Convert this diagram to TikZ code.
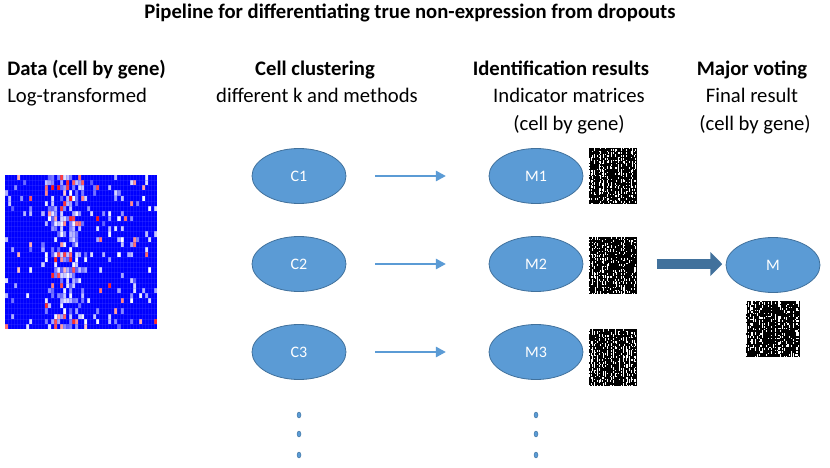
\documentclass[tikz,border=0pt]{standalone}
\usepackage{fontspec}
\setmainfont{Carlito}
\usetikzlibrary{arrows.meta,shapes.geometric}
\definecolor{obl}{HTML}{5B9BD5}
\definecolor{obd}{HTML}{41719C}
\definecolor{hblue}{RGB}{0,0,255}
\newcommand\binmatrix[4]{% x y w h
  \fill[black] (#1,#2) rectangle ++(#3,#4);
  \pgfmathsetmacro\bcw{#3/30}
  \pgfmathsetmacro\bch{#4/38}
  \foreach \bi in {0,...,29}{
    \pgfmathsetmacro\bpc{0.08+0.5*rnd}
    \foreach \bj in {0,...,37}{
      \pgfmathsetmacro\br{rnd}
      \ifdim\br pt<\bpc pt
        \fill[white] (#1+\bi*\bcw,#2+\bj*\bch) rectangle ++(\bcw*0.65,\bch);
      \fi
    }
  }
}
\begin{document}
\begin{tikzpicture}[x=0.75pt,y=-0.75pt,
  ell/.style={ellipse, fill=obl, draw=obd, line width=0.6pt, minimum width=70.5pt, minimum height=41.25pt, inner sep=0pt, text=white, font=\fontsize{12}{14}\selectfont},
  head/.style={font=\fontsize{15.5}{18}\selectfont\bfseries, inner sep=0pt, anchor=base},
  sub/.style={font=\fontsize{15.5}{18}\selectfont, inner sep=0pt, anchor=base},
  thinarr/.style={draw=obl, line width=2.2pt, -{Triangle[length=7.5pt,width=7.5pt]}, shorten <=21.5pt, shorten >=32pt},
  bigarr/.style={draw=obd, line width=7.5pt, -{Triangle[length=9pt,width=17.5pt]}, shorten <=55pt, shorten >=2.5pt},
  dotn/.style={ellipse, fill=obl, draw=obd, line width=0.3pt, minimum width=3pt, minimum height=4.5pt, inner sep=0pt}]
\useasboundingbox (0,0) rectangle (830,467);

% title and headings
\node[head] (title) at (410,19) {Pipeline for differentiating true non-expression from dropouts};
\node[head, anchor=base west] (h1) at (7,75) {Data (cell by gene)};
\node[sub, anchor=base west] (s1) at (7,102) {Log-transformed};
\node[head] (h2) at (315,75) {Cell clustering};
\node[sub] (s2) at (317,102) {different k and methods};
\node[head] (h3) at (561,75) {Identification results};
\node[sub] (s3) at (569,102) {Indicator matrices};
\node[sub] (s3b) at (569,130) {(cell by gene)};
\node[head] (h4) at (752,75) {Major voting};
\node[sub] (s4) at (752,102) {Final result};
\node[sub] (s4b) at (755,130) {(cell by gene)};

% heatmap
\fill[hblue] (5,175) rectangle (157,329);
\pgfmathsetseed{4242}
\foreach \p [count=\i from 0] in {.15,.05,.05,.03,.05, .03,.05,.05,.25,.15, .03,.05,.1,.35,.3, .5,.45,.3,.55,.6, .5,.6,.55,.4,.45, .2,.1,.05,.1,.2, .25,.1,.05,.05,.1, .05,.1,.15,.2,.1, .05,.25,.3,.1,.15, .1,.2,.1,.05,.05}{
  \foreach \j in {0,...,29}{
    \pgfmathsetmacro\r{rnd}
    \ifdim\r pt<\p pt
      \pgfmathsetmacro\l{rnd}
      \ifdim\l pt<0.8pt
        \pgfmathsetmacro\c{int(65*(1-\l/0.8))}
        \fill[hblue!\c!white] (5+\i*3.04,175+\j*5.1333) rectangle ++(3.04,5.1333);
      \else
        \pgfmathsetmacro\c{int(20+75*(\l-0.8)/0.2)}
        \fill[red!\c!white] (5+\i*3.04,175+\j*5.1333) rectangle ++(3.04,5.1333);
      \fi
    \fi
  }
}
\foreach \i in {1,...,49}{\draw[hblue!70!white, line width=0.1pt, opacity=0.25] (5+\i*3.04,175) -- (5+\i*3.04,329);}
\foreach \j in {1,...,29}{\draw[hblue!70!white, line width=0.1pt, opacity=0.25] (5,175+\j*5.1333) -- (157,175+\j*5.1333);}

% binary matrices
\binmatrix{589}{148}{48}{56}
\binmatrix{589}{237}{48}{57}
\binmatrix{589}{329}{48}{57}
\binmatrix{746}{301}{54}{56}

% ellipses
\node[ell] (C1) at (299,176) {C1};
\node[ell] (C2) at (299,264) {C2};
\node[ell] (C3) at (299,352) {C3};
\node[ell] (M1) at (536,176) {M1};
\node[ell] (M2) at (536,264) {M2};
\node[ell] (M3) at (536,352) {M3};
\node[ell] (M) at (773,265) {M};

% arrows
\draw[thinarr] (C1) -- (M1);
\draw[thinarr] (C2) -- (M2);
\draw[thinarr] (C3) -- (M3);
\draw[bigarr] (M2.east) -- (M2.east -| M.west);

% dots
\foreach \k/\yy in {1/415,2/434,3/455}{
  \node[dotn] (dc\k) at (299,\yy) {};
  \node[dotn] (dm\k) at (536,\yy) {};
}
\end{tikzpicture}
\end{document}
